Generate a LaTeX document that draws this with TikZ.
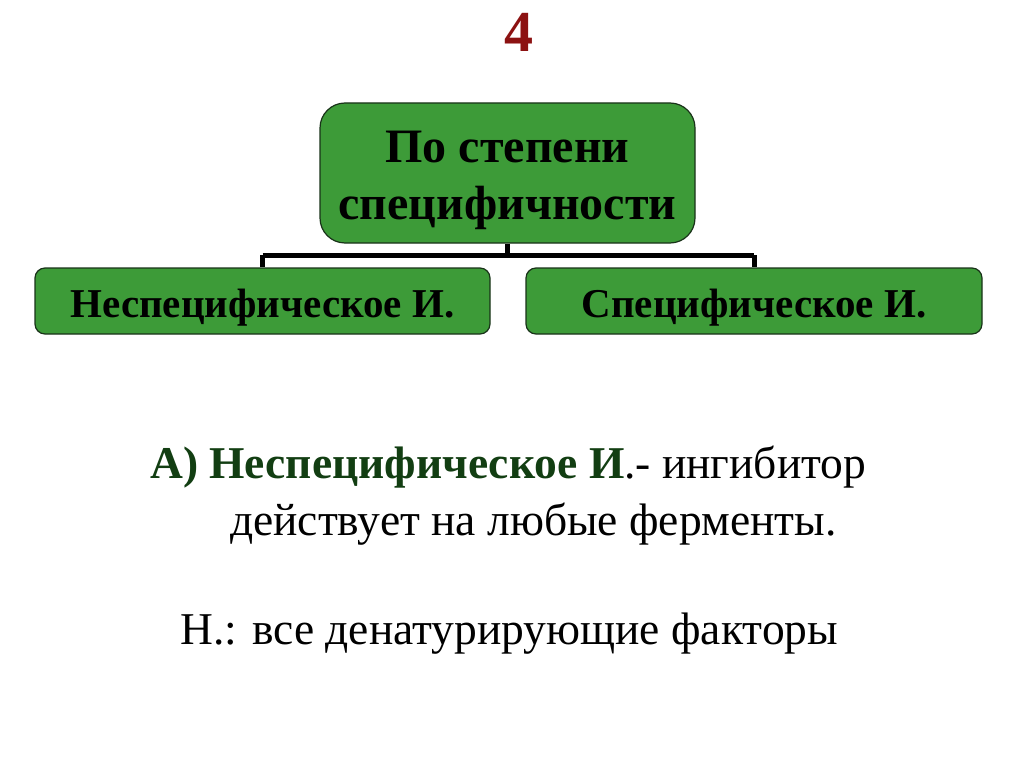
\documentclass[tikz,border=0pt]{standalone}
\usepackage{fontspec}
\setmainfont{Liberation Serif}
\definecolor{boxgreen}{RGB}{61,155,56}
\definecolor{boxline}{RGB}{25,50,25}
\definecolor{numred}{RGB}{140,18,18}
\definecolor{txtgreen}{RGB}{18,62,18}

\begin{document}
\begin{tikzpicture}[x=1pt,y=-1pt,
  gbox/.style={draw=boxline, line width=1.2pt, fill=boxgreen, rounded corners=#1,
    align=center, font=\bfseries\fontsize{41}{45}\selectfont, inner sep=0pt},
  bus/.style={line width=5pt, black},
  txt/.style={anchor=base west, inner sep=0pt, font=\fontsize{45.5}{50}\selectfont}]
\useasboundingbox (0,0) rectangle (1024,767);

\node[text=numred, font=\bfseries\fontsize{58}{60}\selectfont] (num) at (519,32) {4};

\node[gbox=25pt, minimum width=375pt, minimum height=140pt, text height=94pt, text depth=0pt,
      font=\bfseries\fontsize{48}{57}\selectfont] (top) at (507.5,173) {По степени\\специфичности};
\node[gbox=10pt, minimum width=455pt, minimum height=66pt, text height=32pt, text depth=0pt] (left)  at (262.5,301) {Неспецифическое И.};
\node[gbox=10pt, minimum width=456pt, minimum height=66pt, text height=32pt, text depth=0pt] (right) at (754,301) {Специфическое И.};

% Edges
\coordinate (mid) at (507.5,255);
\draw[bus] (top.south) -- (mid);
\draw[bus] (left.north |- mid) -- (right.north |- mid);
\draw[bus] (left.north |- mid) -- (left.north);
\draw[bus] (right.north |- mid) -- (right.north);

\node[txt] (line1) at (150,478) {{\color{txtgreen}\bfseries А) Неспецифическое И}.- ингибитор};
\node[txt] (line2) at (230,535) {действует на любые ферменты.};
\node[txt] (line3) at (180,644) {Н.: все денатурирующие факторы};
\end{tikzpicture}
\end{document}
